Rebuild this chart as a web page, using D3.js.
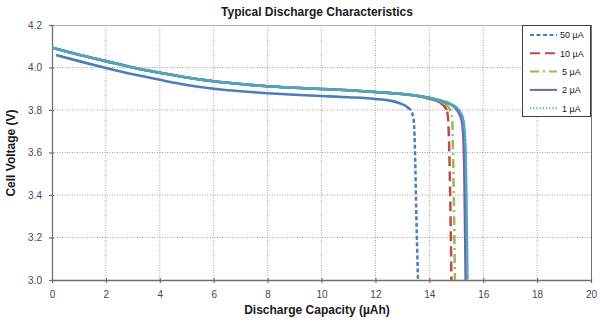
<!DOCTYPE html>
<html><head><meta charset="utf-8">
<script src="https://cdn.jsdelivr.net/npm/d3@7"></script>
<style>body{margin:0;background:#fff}svg{display:block}text{font-family:Arial,"Liberation Sans",sans-serif}</style>
</head><body><svg id="c" width="600" height="330"></svg>
<script>
const xTicks = [0,2,4,6,8,10,12,14,16,18,20];
const yTicks = [3.0,3.2,3.4,3.6,3.8,4.0,4.2];
const seriesNames = ["50 µA","10 µA","5 µA","2 µA","1 µA"];
const seriesColors = ["#4a7ebb","#be4b48","#98b954","#7d60a0","#46aac5"];
const seriesDash = ["4,2.5","10,5","9,4,2,4",null,"1.2,2"];

const x50 = [0.15,1,2,3,4,5,6,7,8,9,10,11,12,12.5,12.9,13.2,13.35,13.43,13.47,13.52,13.58];
const v50 = [4.059,4.03,3.998,3.968,3.942,3.918,3.9,3.888,3.879,3.872,3.866,3.86,3.852,3.845,3.832,3.812,3.79,3.74,3.6,3.3,3.0];

const x10 = [0,0.5,1,2,3,4,5,6,7,8,9,10,11,12,13,13.5,14,14.4,14.6,14.68,14.72,14.76,14.8,14.82];
const v10 = [4.093,4.076,4.06,4.03,4.0,3.975,3.953,3.935,3.922,3.912,3.905,3.899,3.893,3.885,3.875,3.867,3.853,3.835,3.81,3.78,3.7,3.5,3.2,3.0];

const x5 = [0,0.5,1,2,3,4,5,6,7,8,9,10,11,12,13,13.5,14,14.5,14.7,14.8,14.85,14.88,14.92,14.95];
const v5 = [4.093,4.076,4.06,4.03,4.0,3.975,3.953,3.935,3.922,3.912,3.905,3.899,3.893,3.885,3.875,3.867,3.855,3.835,3.815,3.79,3.75,3.6,3.3,3.0];

const x2 = [0,0.5,1,2,3,4,5,6,7,8,9,10,11,12,13,13.5,14,14.5,14.8,15.0,15.1,15.2,15.25,15.3,15.33,15.35];
const v2 = [4.093,4.076,4.06,4.03,4.0,3.975,3.953,3.935,3.922,3.912,3.905,3.899,3.893,3.885,3.875,3.868,3.857,3.84,3.826,3.805,3.785,3.75,3.7,3.5,3.2,3.0];

const x1 = [0,0.5,1,2,3,4,5,6,7,8,9,10,11,12,13,13.5,14,14.5,14.8,15.0,15.15,15.25,15.3,15.35,15.38,15.4,15.42];
const v1 = [4.093,4.076,4.06,4.03,4.0,3.975,3.953,3.935,3.922,3.912,3.905,3.899,3.893,3.885,3.875,3.868,3.857,3.842,3.828,3.812,3.79,3.76,3.72,3.6,3.4,3.2,3.0];

const seriesX = [x50,x10,x5,x2,x1];
const seriesV = [v50,v10,v5,v2,v1];

const svg = d3.select("#c");
const L=52, R=591, T=25, B=280;
const x = d3.scaleLinear().domain([0,20]).range([L,R]);
const y = d3.scaleLinear().domain([3.0,4.2]).range([B,T]);

// grid
const g = svg.append("g");
g.selectAll(".gx").data(xTicks.slice(1,-1)).join("line")
  .attr("x1",d=>x(d)).attr("x2",d=>x(d)).attr("y1",T).attr("y2",B)
  .attr("stroke","#a0a0a0").attr("stroke-width",1).attr("stroke-dasharray","1,1.5");
g.selectAll(".gy").data(yTicks.slice(1,-1)).join("line")
  .attr("y1",d=>y(d)).attr("y2",d=>y(d)).attr("x1",L).attr("x2",R)
  .attr("stroke","#a0a0a0").attr("stroke-width",1).attr("stroke-dasharray","1,1.5");

// plot border
svg.append("line").attr("x1",L).attr("x2",R).attr("y1",T+0.5).attr("y2",T+0.5).attr("stroke","#b0b0b0");
svg.append("line").attr("x1",R+0.5).attr("x2",R+0.5).attr("y1",T).attr("y2",B).attr("stroke","#707070");

// axes
const xAxis = d3.axisBottom(x).tickValues(xTicks).tickFormat(d3.format("d")).tickSizeInner(4).tickSizeOuter(0).tickPadding(7);
const yAxis = d3.axisLeft(y).tickValues(yTicks).tickFormat(d3.format(".1f")).tickSizeInner(4).tickSizeOuter(0).tickPadding(6);
const ax = svg.append("g").attr("transform",`translate(0,${B})`).call(xAxis);
const ay = svg.append("g").attr("transform",`translate(${L},0)`).call(yAxis);
[ax,ay].forEach(a=>{
  a.select(".domain").attr("stroke","#707070").attr("stroke-width",1.3);
  a.selectAll(".tick line").attr("stroke","#707070").attr("stroke-width",1.2);
  a.selectAll(".tick text").attr("fill","#4b3f63").attr("font-size","10px").attr("font-family","Arial, Liberation Sans, sans-serif");
});
ax.selectAll(".tick line").attr("y1",-2).attr("y2",3);
ay.selectAll(".tick line").attr("x1",2).attr("x2",-3);

// clips: upper (solid-looking) and lower (dashed) regions
const splitY = y(3.8);
svg.append("clipPath").attr("id","clipTop").append("rect").attr("x",L).attr("y",T).attr("width",R-L).attr("height",splitY-T);
svg.append("clipPath").attr("id","clipBot").append("rect").attr("x",L).attr("y",splitY).attr("width",R-L).attr("height",B-splitY);

const line = d3.line().x(d=>x(d[0])).y(d=>y(d[1])).curve(d3.curveMonotoneX);
const lgT = svg.append("g").attr("clip-path","url(#clipTop)");
const lgB = svg.append("g").attr("clip-path","url(#clipBot)");
seriesNames.forEach((n,i)=>{
  const pts = seriesX[i].map((xv,j)=>[xv,seriesV[i][j]]);
  const d = line(pts);
  lgT.append("path").attr("d",d).attr("fill","none")
    .attr("stroke",seriesColors[i]).attr("stroke-width",2.6);
  lgB.append("path").attr("d",d).attr("fill","none")
    .attr("stroke",seriesColors[i]).attr("stroke-width",2.5)
    .attr("stroke-dasharray",seriesDash[i]).attr("stroke-linecap", i===4?"round":"butt");
});

// titles
svg.append("text").attr("x",317).attr("y",16).attr("text-anchor","middle")
  .attr("font-size","12px").attr("font-weight","bold").attr("fill","#1a1a1a").text("Typical Discharge Characteristics");
svg.append("text").attr("x",317).attr("y",314).attr("text-anchor","middle")
  .attr("font-size","12px").attr("font-weight","bold").attr("fill","#1a1a1a").text("Discharge Capacity (µAh)");
svg.append("text").attr("transform","translate(15,153) rotate(-90)").attr("text-anchor","middle")
  .attr("font-size","12px").attr("font-weight","bold").attr("fill","#1a1a1a").text("Cell Voltage (V)");

// legend
const leg = svg.append("g");
leg.append("rect").attr("x",522.5).attr("y",25.5).attr("width",68).attr("height",91)
  .attr("fill","#fff").attr("stroke","#404040").attr("stroke-width",1);
seriesNames.forEach((n,i)=>{
  const yy = 35 + i*18.3;
  leg.append("line").attr("x1",530).attr("x2",557).attr("y1",yy).attr("y2",yy)
    .attr("stroke",seriesColors[i]).attr("stroke-width",2).attr("stroke-dasharray",seriesDash[i]);
  leg.append("text").attr("x", n.length > 4 ? 560 : 562).attr("y",yy+3.3).attr("text-anchor","start")
    .attr("font-size","9px").attr("fill","#1a1a1a").text(n);
});
</script></body></html>
